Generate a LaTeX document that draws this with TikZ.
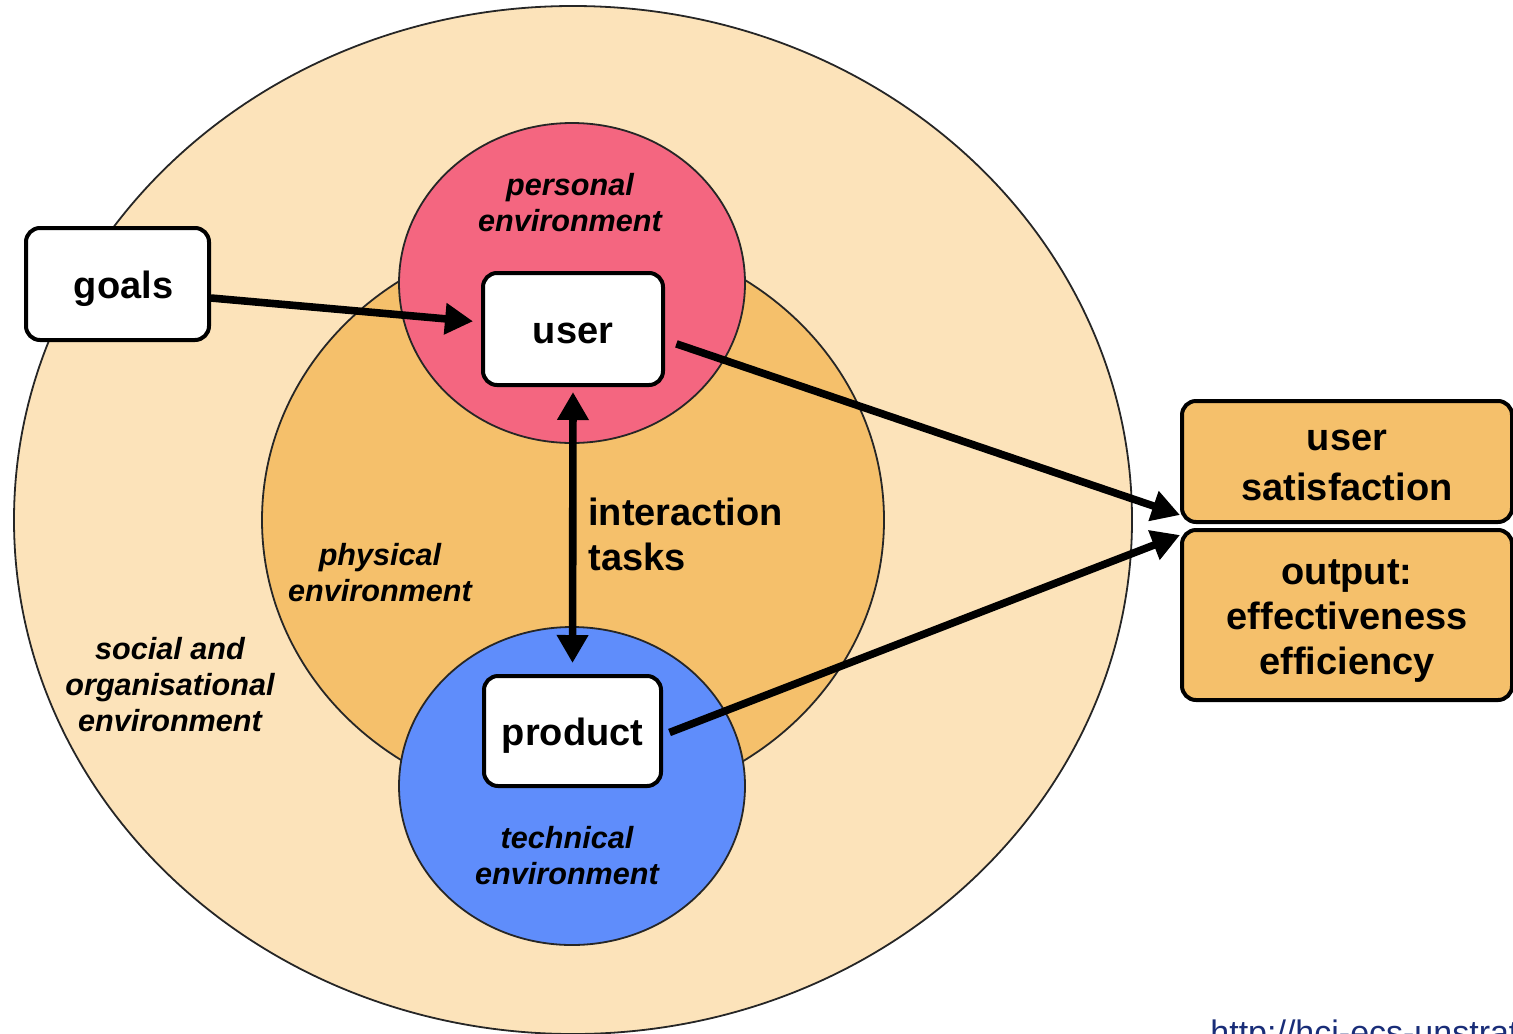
\documentclass[tikz,border=0pt]{standalone}
\usepackage{fontspec}
\setmainfont{Liberation Sans}
\usetikzlibrary{arrows.meta,calc}
\definecolor{socialc}{RGB}{252,227,186}
\definecolor{physc}{RGB}{245,192,107}
\definecolor{persc}{RGB}{244,102,128}
\definecolor{techc}{RGB}{95,141,251}
\definecolor{urlc}{RGB}{25,45,120}
\newcommand\boxstrut{\rule[-5pt]{0pt}{24pt}}
\begin{document}
\begin{tikzpicture}[x=0.5pt,y=-0.5pt,
  env/.style={draw=black!85,line width=0.9pt},
  wbox/.style={draw=black,line width=2pt,rounded corners=7pt,fill=white,
    font=\bfseries\fontsize{19}{22.5}\selectfont,align=center,inner sep=0pt},
  obox/.style={wbox,fill=physc},
  envlabel/.style={font=\bfseries\itshape\fontsize{15.3}{18}\selectfont,align=center,inner sep=0pt},
  arr/.style={line width=3.8pt,-{Triangle[length=14pt,width=15pt]}},
  darr/.style={line width=3.8pt,{Triangle[length=14pt,width=15pt]}-{Triangle[length=14pt,width=15pt]}},
]
\useasboundingbox (0,0) rectangle (1513,1033);
\begin{scope}
\clip (0,0) rectangle (1513,1033);
% environments
\draw[env,fill=socialc] (573,520) ellipse [x radius=279.5pt,y radius=257pt];
\draw[env,fill=physc] (573,520) ellipse [x radius=155.5pt,y radius=144pt];
\draw[env,fill=persc] (572,283) ellipse [x radius=86.5pt,y radius=80pt];
\draw[env,fill=techc] (572,786) ellipse [x radius=86.5pt,y radius=79.5pt];
% labels
\node[envlabel] (lpers) at (570,203) {personal\\environment};
\node[envlabel] (lphys) at (380,573) {physical\\environment};
\node[envlabel] (lsoc) at (170,685) {social and\\organisational\\environment};
\node[envlabel] (ltech) at (567,856) {technical\\environment};
\node[font=\bfseries\fontsize{19}{22.5}\selectfont,align=left,anchor=west,inner sep=0pt] (inter) at (588,534) {interaction\\tasks};
% boxes
\node[wbox,minimum width=91.5pt,minimum height=56pt] (goals) at (117.5,284) {\boxstrut\hspace*{6pt}goals};
\node[wbox,minimum width=90pt,minimum height=56pt] (user) at (573,329) {\boxstrut user};
\node[wbox,minimum width=88.5pt,minimum height=55pt] (product) at (572.5,731) {\boxstrut product};
\node[obox,minimum width=165pt,minimum height=60.5pt] (usersat) at (1347,461.5) {\boxstrut user\\satisfaction\boxstrut};
\node[obox,minimum width=165pt,minimum height=85pt] (output) at (1347,615) {\boxstrut output:\\effectiveness\\efficiency\boxstrut};
% arrows
\draw[arr,shorten >=4pt] ([yshift=-7pt]goals.east) -- ([yshift=3.5pt]user.west);
\draw[arr,shorten <=6pt] ([yshift=-5.5pt]user.east) -- ([yshift=-26.75pt]usersat.west);
\draw[arr,shorten <=3.5pt] ([yshift=-2pt]product.east) -- ([yshift=40pt]output.west);
\draw[darr,shorten <=2.5pt,shorten >=5.5pt] (user.south) -- (product.north);
% url
\node[anchor=base west,text=urlc,font=\fontsize{17}{20}\selectfont,inner sep=0pt] (url) at (1210,1044) {http://hci-ecs-unstrath};
\end{scope}
\end{tikzpicture}
\end{document}
